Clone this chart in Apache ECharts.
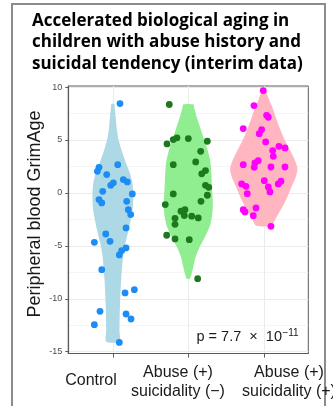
<!DOCTYPE html>
<html>
<head>
<meta charset="utf-8">
<script src="https://cdn.jsdelivr.net/npm/echarts@6/dist/echarts.min.js"></script>
<style>
html,body{margin:0;padding:0;background:#fff;}
#chart{width:333px;height:406px;}
</style>
</head>
<body>
<div id="chart"></div>
<script>
// ---------- data ----------
const titleLines = ['Accelerated biological aging in', 'children with abuse history and', 'suicidal tendency (interim data)'];
const yAxisTitle = 'Peripheral blood GrimAge';
const categories = [['Control'], ['Abuse (+)', 'suicidality (\u2212)'], ['Abuse (+)', 'suicidality (+)']];
const yTicks = [-15, -10, -5, 0, 5, 10];
const xTicks = [1, 2, 3];
const pLabel = ['p = 7.7  \u00d7  10', '\u221211'];

// points: [jitter offset from category centre, GrimAge value]
const controlPts = [
  [0.095, 8.44], [0.065, 2.67], [-0.183, 2.42], [-0.205, 2.04], [-0.081, 1.73], [0.139, 1.26],
  [0.192, 1.04], [0.007, 0.95], [-0.028, 0.72], [-0.134, 0.15], [0.258, -0.10], [-0.183, -0.63],
  [-0.147, -0.95], [0.184, -0.79], [0.205, -1.58], [0.237, -2.05], [0.175, -3.31], [-0.094, -3.88],
  [-0.245, -4.67], [-0.037, -4.57], [0.175, -5.20], [0.118, -5.45], [0.086, -5.86], [-0.147, -7.25],
  [0.285, -9.14], [0.162, -9.45], [-0.170, -11.19], [0.175, -11.44], [0.241, -11.91], [-0.245, -12.45],
  [0.086, -14.12]
];
const abuseNoSuiPts = [
  [-0.252, 8.35], [-0.282, 4.63], [-0.199, 5.04], [-0.150, 5.20], [0.000, 5.13], [0.252, 4.88],
  [0.164, 3.93], [-0.199, 2.67], [0.098, 2.93], [0.228, 2.11], [0.178, 1.80], [0.228, 0.72],
  [0.271, 0.53], [-0.199, -0.10], [0.252, -0.22], [0.168, -0.79], [-0.305, -1.10], [-0.097, -1.73],
  [-0.044, -1.58], [-0.053, -2.14], [-0.176, -2.40], [-0.176, -2.97], [0.045, -2.20], [0.132, -2.36],
  [-0.286, -4.00], [-0.176, -4.35], [0.013, -4.42], [0.124, -8.10]
];
const abuseSuiPts = [
  [-0.007, 9.67], [-0.130, 8.25], [0.038, 7.33], [0.060, 7.15], [-0.272, 6.08], [-0.028, 5.98],
  [-0.060, 5.60], [0.025, 4.82], [0.201, 4.40], [0.281, 4.25], [0.118, 4.00], [0.126, 3.46],
  [-0.272, 2.67], [-0.073, 3.05], [-0.117, 2.83], [-0.126, 2.42], [0.095, 2.45], [0.281, 2.45],
  [0.007, 1.16], [-0.293, 0.85], [-0.236, 0.62], [0.060, 0.56], [0.192, 0.85], [0.228, 1.10],
  [0.082, 0.09], [-0.219, -0.07], [-0.272, -1.58], [-0.249, -1.80], [-0.103, -1.42], [-0.139, -2.15],
  [0.095, -3.16]
];

// violin density profiles: [GrimAge value, half width in category units]
const controlViolin = [
  [8.4, 0.02], [8.0, 0.026], [7.0, 0.04], [6.0, 0.053], [5.0, 0.077], [4.0, 0.117], [3.0, 0.166],
  [2.0, 0.219], [1.0, 0.258], [0.0, 0.269], [-1.0, 0.268], [-2.0, 0.252], [-3.0, 0.225], [-4.0, 0.192],
  [-5.0, 0.159], [-6.0, 0.136], [-7.0, 0.122], [-8.0, 0.112], [-9.0, 0.104], [-10.0, 0.098],
  [-11.0, 0.093], [-12.0, 0.09], [-13.0, 0.088], [-14.05, 0.087]
];
const abuseNoSuiViolin = [
  [8.35, 0.066], [8.0, 0.079], [7.0, 0.119], [6.0, 0.166], [5.0, 0.212], [4.0, 0.258], [3.0, 0.291],
  [2.0, 0.305], [1.0, 0.311], [0.0, 0.318], [-1.0, 0.325], [-2.0, 0.318], [-3.0, 0.291], [-4.0, 0.232],
  [-5.0, 0.159], [-6.0, 0.099], [-7.0, 0.066], [-7.6, 0.046], [-8.1, 0.02]
];
const abuseSuiViolin = [
  [9.8, 0.02], [9.0, 0.06], [8.0, 0.119], [7.0, 0.166], [6.0, 0.219], [5.0, 0.278], [4.0, 0.351],
  [3.0, 0.417], [2.3, 0.446], [1.5, 0.424], [0.5, 0.364], [-0.5, 0.305], [-1.5, 0.232], [-2.5, 0.152],
  [-3.1, 0.099]
];

// ---------- chart ----------
const groups = [
  {pts: controlPts, violin: controlViolin, fill: '#ADD8E6', dot: '#1E8CF5'},
  {pts: abuseNoSuiPts, violin: abuseNoSuiViolin, fill: '#90EE90', dot: '#1C7A1C'},
  {pts: abuseSuiPts, violin: abuseSuiViolin, fill: '#FFB6C1', dot: '#FF00FF'}
];

const chart = echarts.init(document.getElementById('chart'), null, {renderer: 'canvas'});

const series = [];
series.push({
  type: 'custom',
  z: 1,
  silent: true,
  data: groups.map((g, i) => [i + 1, 0]),
  renderItem: function (params, api) {
    const idx = params.dataIndex;
    const c = idx + 1;
    const prof = groups[idx].violin;
    const left = prof.map(p => api.coord([c - p[1], p[0]]));
    const right = prof.slice().reverse().map(p => api.coord([c + p[1], p[0]]));
    return {
      type: 'polygon',
      shape: {points: left.concat(right), smooth: 0.25},
      style: {fill: groups[idx].fill, stroke: null}
    };
  }
});
groups.forEach((g, i) => {
  series.push({
    type: 'scatter',
    z: 3,
    symbol: 'circle',
    symbolSize: 6.8,
    itemStyle: {color: g.dot, opacity: 1},
    data: g.pts.map(p => [i + 1 + p[0], p[1]])
  });
});

const gridLeft = 68.3, gridTop = 86, gridRight = 333 - 308.3, gridBottom = 406 - 353.5;

// place the superscript right after the main p-value text
const pFont = '14.5px "Liberation Sans"';
const mctx = document.createElement('canvas').getContext('2d');
mctx.font = pFont;
const pX = 196.5;
const supX = pX + mctx.measureText(pLabel[0]).width + 0.5;

const graphics = [
  {type: 'rect', shape: {x: 12, y: 4, width: 313, height: 430}, style: {fill: null, stroke: '#8c8c8c', lineWidth: 2}, z: 0},
  {type: 'text', x: 32, y: 10, style: {text: titleLines.join('\n'), font: 'bold 17px "Open Sans"', lineHeight: 21.7, fill: '#000'}, z: 10},
  {type: 'text', x: 35, y: 214, rotation: Math.PI / 2, style: {text: yAxisTitle, font: '18px "Liberation Sans"', fill: '#1a1a1a', align: 'center', verticalAlign: 'middle'}, z: 10},
  {type: 'text', x: 91, y: 381, style: {text: categories[0].join('\n'), font: '16px "Liberation Sans"', fill: '#1a1a1a', align: 'center', verticalAlign: 'middle', lineHeight: 19}, z: 10},
  {type: 'text', x: 178, y: 382, style: {text: categories[1].join('\n'), font: '16px "Liberation Sans"', fill: '#1a1a1a', align: 'center', verticalAlign: 'middle', lineHeight: 19}, z: 10},
  {type: 'text', x: 289, y: 382, style: {text: categories[2].join('\n'), font: '16px "Liberation Sans"', fill: '#1a1a1a', align: 'center', verticalAlign: 'middle', lineHeight: 19}, z: 10},
  {type: 'text', x: pX, y: 337, style: {text: pLabel[0], font: pFont, fill: '#1a1a1a', align: 'left', verticalAlign: 'middle'}, z: 10},
  {type: 'text', x: supX, y: 333, style: {text: pLabel[1], font: '10px "Liberation Sans"', fill: '#1a1a1a', align: 'left', verticalAlign: 'middle'}, z: 10}
];

chart.setOption({
  animation: false,
  backgroundColor: '#fff',
  grid: {left: gridLeft, top: gridTop, right: gridRight, bottom: gridBottom, show: true, borderColor: '#5a5a5a', borderWidth: 1, containLabel: false},
  xAxis: {
    type: 'value', min: 0.41, max: 3.59,
    axisLine: {show: true, onZero: false, lineStyle: {color: '#5a5a5a', width: 1.2}},
    axisTick: {show: true, length: 4, customValues: xTicks, lineStyle: {color: '#5a5a5a'}},
    axisLabel: {show: false},
    splitLine: {show: true, lineStyle: {color: '#ebebeb', width: 1}},
    minorSplitLine: {show: false}
  },
  yAxis: {
    type: 'value', min: -15.17, max: 10.1,
    axisLine: {show: true, onZero: false, lineStyle: {color: '#5a5a5a', width: 1.2}},
    axisTick: {show: true, length: 3, customValues: yTicks, lineStyle: {color: '#5a5a5a'}},
    axisLabel: {show: true, customValues: yTicks, margin: 6, color: '#4d4d4d', fontSize: 9, fontFamily: 'Liberation Sans'},
    splitLine: {show: true, lineStyle: {color: '#ebebeb', width: 1}},
    minorTick: {show: false, splitNumber: 2},
    minorSplitLine: {show: true, lineStyle: {color: '#f3f3f3', width: 0.8}}
  },
  series: series,
  graphic: graphics
});
</script>
</body>
</html>
